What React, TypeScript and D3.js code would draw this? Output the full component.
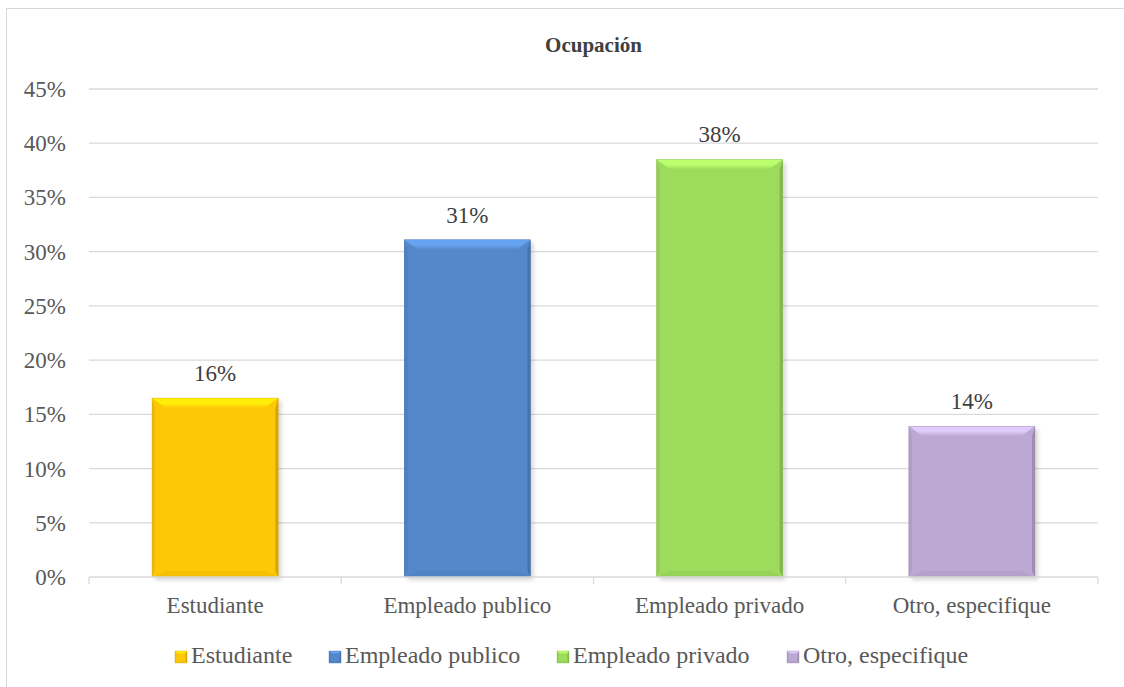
import { useMemo } from "react"
import * as d3 from "d3"

const categories = ["Estudiante", "Empleado publico", "Empleado privado", "Otro, especifique"]
const values = [0.165, 0.311, 0.385, 0.139]
const valueLabels = ["16%", "31%", "38%", "14%"]
const colors = ["#ffc807", "#5588cb", "#9ddb5c", "#bba9d3"]
const yTicks = [0, 0.05, 0.1, 0.15, 0.2, 0.25, 0.3, 0.35, 0.4, 0.45]

const W = 1124, H = 687
const X0 = 89, X1 = 1098, Y0 = 577, Y1 = 89
const FONT = "Liberation Serif"

function Bar({ x, y, w, h, color, id, small }: { x: number, y: number, w: number, h: number, color: string, id: number, small?: boolean }) {
  const c = d3.color(color)!
  const light = c.brighter(0.5).formatHex()
  const dark = c.darker(0.5).formatHex()
  const side = c.darker(0.2).formatHex()
  const bx = small ? 3 : 14, bt = small ? 3 : 10, bb = small ? 2 : 6, bs = small ? 1.5 : 3
  return (
    <g>
      {!small && <rect x={x + 3} y={y + 3} width={w} height={h} fill="#000" opacity={0.16} filter="url(#blur)" />}
      <rect x={x} y={y} width={w} height={h} fill={color} />
      {/* bottom bevel */}
      <polygon points={`${x},${y + h} ${x + w},${y + h} ${x + w - bx},${y + h - bb} ${x + bx},${y + h - bb}`} fill={side} opacity={0.6} />
      {/* side bevels */}
      <polygon points={`${x},${y} ${x + bs},${y + bt} ${x + bs},${y + h - bb} ${x},${y + h}`} fill={side} />
      <polygon points={`${x + w},${y} ${x + w - bs},${y + bt} ${x + w - bs},${y + h - bb} ${x + w},${y + h}`} fill={dark} />
      {/* top bevel */}
      <polygon points={`${x},${y} ${x + w},${y} ${x + w - bx},${y + bt} ${x + bx},${y + bt}`} fill={`url(#top${id})`} />
      <defs>
        <linearGradient id={`top${id}`} x1="0" y1="0" x2="0" y2="1">
          <stop offset="0" stopColor={light} />
          <stop offset="0.5" stopColor={light} />
          <stop offset="1" stopColor={color} />
        </linearGradient>
      </defs>
      <rect x={x} y={y} width={w} height={h} fill="none" stroke={dark} strokeWidth={0.6} opacity={0.6} />
    </g>
  )
}

export default function App() {
  const x = useMemo(() => d3.scaleBand<string>().domain(categories).range([X0, X1]).paddingInner(0.5).paddingOuter(0.25), [])
  const y = useMemo(() => d3.scaleLinear().domain([0, 0.45]).range([Y0, Y1]), [])
  const bandEdges = d3.range(categories.length + 1).map(i => X0 + (i * (X1 - X0)) / categories.length)

  const legendX = [175, 329, 557, 787]

  return (
    <div style={{ position: "absolute", left: 0, top: 0 }}>
      <svg width={W} height={H} style={{ display: "block" }} fontFamily={FONT}>
        <defs>
          <filter id="blur" x="-10%" y="-10%" width="120%" height="120%">
            <feGaussianBlur stdDeviation="2" />
          </filter>
        </defs>
        <rect x={0} y={0} width={W} height={H} fill="#fff" />
        <rect x={6.5} y={8.5} width={W + 10} height={H + 10} fill="none" stroke="#d9d9d9" strokeWidth={1} />

        <text x={(X0 + X1) / 2} y={52} textAnchor="middle" fontWeight="bold" fontSize={21} fill="#404040" fontFamily={FONT}>Ocupación</text>

        {yTicks.map(t => (
          <g key={t}>
            {t > 0 && <line x1={X0} x2={X1} y1={y(t)} y2={y(t)} stroke="#d9d9d9" strokeWidth={1.3} />}
            <text x={66} y={y(t) + 8} textAnchor="end" fontSize={23} fill="#595959" fontFamily={FONT}>
              {d3.format(".0%")(t)}
            </text>
          </g>
        ))}

        {categories.map((c, i) => {
          const bx = x(c)!
          const by = y(values[i])
          return (
            <g key={c}>
              <Bar x={bx} y={by} w={x.bandwidth()} h={Y0 - by} color={colors[i]} id={i} />
              <text x={bx + x.bandwidth() / 2} y={by - 17} textAnchor="middle" fontSize={23} fill="#404040" fontFamily={FONT}>{valueLabels[i]}</text>
              <text x={bx + x.bandwidth() / 2} y={613} textAnchor="middle" fontSize={23} fill="#595959" fontFamily={FONT}>{c}</text>
            </g>
          )
        })}

        <line x1={X0} x2={X1} y1={Y0} y2={Y0} stroke="#d9d9d9" strokeWidth={1.3} />
        {bandEdges.map(e => (
          <line key={e} x1={e} x2={e} y1={Y0} y2={Y0 + 7} stroke="#d9d9d9" strokeWidth={1.3} />
        ))}

        {categories.map((c, i) => (
          <g key={c} transform={`translate(${legendX[i]},651)`}>
            <Bar x={0} y={0} w={12} h={12} color={colors[i]} id={10 + i} small />
            <text x={16} y={12} fontSize={24} fill="#595959" fontFamily={FONT}>{c}</text>
          </g>
        ))}
      </svg>
    </div>
  )
}
